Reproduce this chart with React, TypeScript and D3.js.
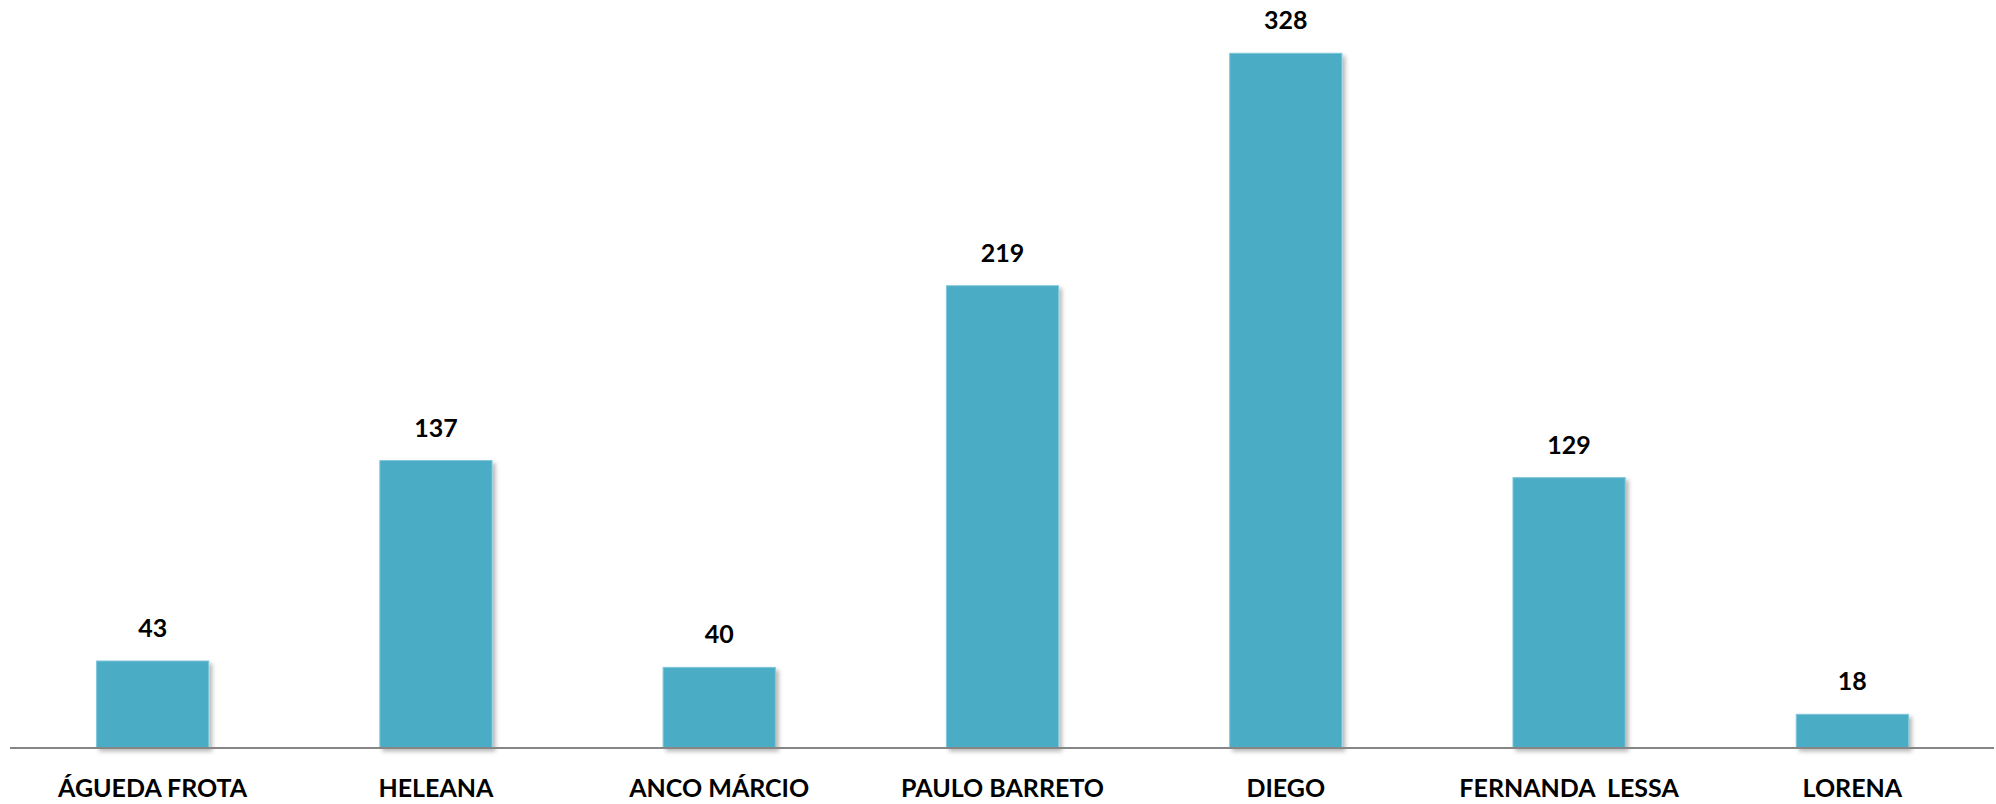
import React from "react";
import * as d3 from "d3";

const categories = ["ÁGUEDA FROTA", "HELEANA", "ANCO MÁRCIO", "PAULO BARRETO", "DIEGO", "FERNANDA  LESSA", "LORENA"];
const values = [43, 137, 40, 219, 328, 129, 18];

const W = 1996;
const H = 804;
const FONT = "Lato, 'Open Sans', sans-serif";

export default function App() {
  const x = d3.scaleBand<string>().domain(categories).range([11, 1994]).paddingInner(0.604).paddingOuter(0.302);
  const y = d3.scaleLinear().domain([0, 328]).range([752.7, 53.3]);
  const axisY = 748;
  return (
    <svg width={W} height={H} style={{ position: "absolute", left: 0, top: 0, background: "#fff" }}>
      <defs>
        <filter id="sh" x="-20%" y="-20%" width="150%" height="150%">
          <feDropShadow dx="3" dy="3" stdDeviation="2" floodColor="#000" floodOpacity="0.28" />
        </filter>
      </defs>
      {categories.map((c, i) => {
        const bx = x(c)!;
        const top = y(values[i]);
        return (
          <g key={c}>
            <rect x={bx} y={top} width={x.bandwidth()} height={axisY - top} fill="#4BACC6" stroke="#7fc7da" strokeWidth={1} filter="url(#sh)" />
            <text x={bx + x.bandwidth() / 2} y={top - 24} textAnchor="middle" fontFamily={FONT} fontWeight="bold" fontSize={25} fill="#000">
              {values[i]}
            </text>
            <text x={bx + x.bandwidth() / 2} y={797} textAnchor="middle" fontFamily={FONT} fontWeight="bold" fontSize={25} fill="#000" style={{ whiteSpace: "pre" }}>
              {c}
            </text>
          </g>
        );
      })}
      <line x1={10} x2={1994} y1={axisY} y2={axisY} stroke="#868686" strokeWidth={2} />
    </svg>
  );
}
